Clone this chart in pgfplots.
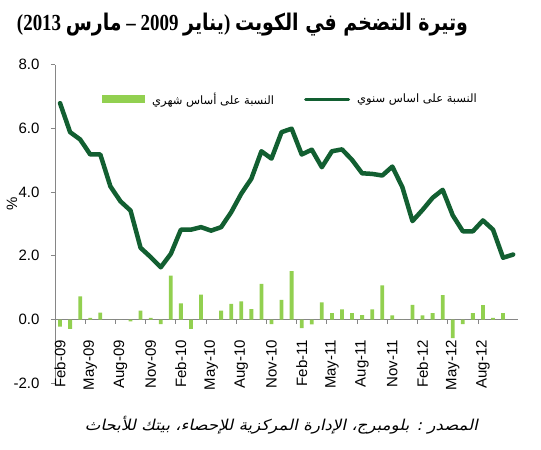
\documentclass[border=0pt]{standalone}
\usepackage{fontspec}
\usepackage{graphicx}
\setmainfont{Liberation Sans}
\newfontfamily\titlelatin{Liberation Serif}
\newfontfamily\arabicfont[Script=Arabic]{DejaVu Sans}
\newfontfamily\arabicslant[Script=Arabic,FakeSlant=0.2]{DejaVu Sans}
\newcommand{\ar}[1]{{\arabicfont\bfseries\beginR #1\endR}}
\usepackage{pgfplots}
\pgfplotsset{compat=1.18}
\TeXXeTstate=1
\definecolor{linegreen}{HTML}{125F31}
\definecolor{bargreen}{HTML}{92D050}
\definecolor{axgray}{HTML}{868686}

\begin{document}
\begin{tikzpicture}
\path[use as bounding box] (0,0) rectangle (541bp,450bp);
\begin{axis}[
  at={(55bp,66.7bp)}, anchor=south west,
  scale only axis, width=463.2bp, height=318.7bp,
  xmin=-0.5, xmax=45.5, ymin=-2, ymax=8,
  axis y line=left, axis x line=middle,
  axis line style={-, axgray, line width=0.8bp},
  hide obscured x ticks=false, hide obscured y ticks=false,
  tick align=outside, major tick length=4bp,
  tick style={axgray, line width=0.8bp},
  tick label style={font=\fontsize{15bp}{18bp}\selectfont, text=black},
  ytick={-2,0,...,8},
  yticklabel={\pgfmathprintnumber[fixed,fixed zerofill,precision=1,assume math mode=true]{\tick}},
  yticklabel shift=8bp,
  xtick={0,3,...,42},
  xticklabels={Feb-09,May-09,Aug-09,Nov-09,Feb-10,May-10,Aug-10,Nov-10,Feb-11,May-11,Aug-11,Nov-11,Feb-12,May-12,Aug-12},
  major x tick style={draw=none},
  xticklabel style={rotate=90, anchor=east},
  xticklabel shift=13bp,
  extra x ticks={-0.5,2.5,...,41.5},
  extra x tick labels={},
  extra x tick style={major x tick style={draw=axgray}},
  legend columns=2,
  legend style={at={(0.1015,0.892)}, anchor=west, draw=none, fill=none, inner sep=0pt,
    font=\arabicfont\fontsize{11.5bp}{14bp}\selectfont,
    /tikz/every odd column/.append style={column sep=5bp},
    /tikz/every even column/.append style={column sep=28bp}},
]
% monthly change
\addplot[ybar, bar width=3.8bp, fill=bargreen, draw=none,
  legend image code/.code={\fill[bargreen] (0bp,-4bp) rectangle (43bp,4bp);}]
  coordinates {
  (0,-0.22)(1,-0.29)(2,0.73)(3,0.05)(4,0.22)(5,0)(6,0)(7,-0.06)(8,0.28)(9,0.05)
  (10,-0.14)(11,1.38)(12,0.51)(13,-0.29)(14,0.78)(15,0)(16,0.28)(17,0.49)(18,0.57)(19,0.33)
  (20,1.12)(21,-0.14)(22,0.62)(23,1.52)(24,-0.27)(25,-0.15)(26,0.54)(27,0.20)(28,0.32)(29,0.20)
  (30,0.14)(31,0.32)(32,1.07)(33,0.13)(34,0)(35,0.46)(36,0.13)(37,0.20)(38,0.77)(39,-0.58)
  (40,-0.14)(41,0.20)(42,0.45)(43,0.05)(44,0.20)
};
\addlegendentry{\beginR النسبة على أساس شهري\endR}
% annual change
\addplot[linegreen, line width=4.5bp, line join=round, line cap=round, mark=none,
  legend image code/.code={\draw[linegreen, line width=3bp] (0bp,0bp) -- (43bp,0bp);}]
  coordinates {
  (0,6.79)(1,5.88)(2,5.65)(3,5.18)(4,5.18)(5,4.18)(6,3.71)(7,3.42)(8,2.25)(9,1.96)
  (10,1.64)(11,2.06)(12,2.82)(13,2.82)(14,2.90)(15,2.79)(16,2.90)(17,3.37)(18,3.95)(19,4.42)
  (20,5.28)(21,5.05)(22,5.88)(23,5.99)(24,5.18)(25,5.33)(26,4.78)(27,5.28)(28,5.34)(29,5.01)
  (30,4.59)(31,4.57)(32,4.52)(33,4.80)(34,4.15)(35,3.09)(36,3.44)(37,3.82)(38,4.07)(39,3.27)
  (40,2.77)(41,2.77)(42,3.11)(43,2.82)(44,1.94)(45,2.04)
};
\addlegendentry{\beginR النسبة على اساس سنوي\endR}
\end{axis}
% title, written in visual order left to right
\node at (242.5bp,425bp) {\resizebox{451bp}{\height}{\fontsize{23bp}{26bp}\selectfont\titlelatin\bfseries (2013 \ar{مارس} – 2009 \ar{يناير}) \ar{وتيرة التضخم في الكويت}}};
\node[rotate=90] at (12bp,246bp) {\fontsize{15bp}{18bp}\selectfont\%};
\node at (281.5bp,25bp) {\resizebox{393bp}{\height}{\arabicslant\fontsize{15bp}{18bp}\selectfont\beginR المصدر : بلومبرج، الإدارة المركزية للإحصاء، بيتك للأبحاث\endR}};
\end{tikzpicture}
\end{document}
